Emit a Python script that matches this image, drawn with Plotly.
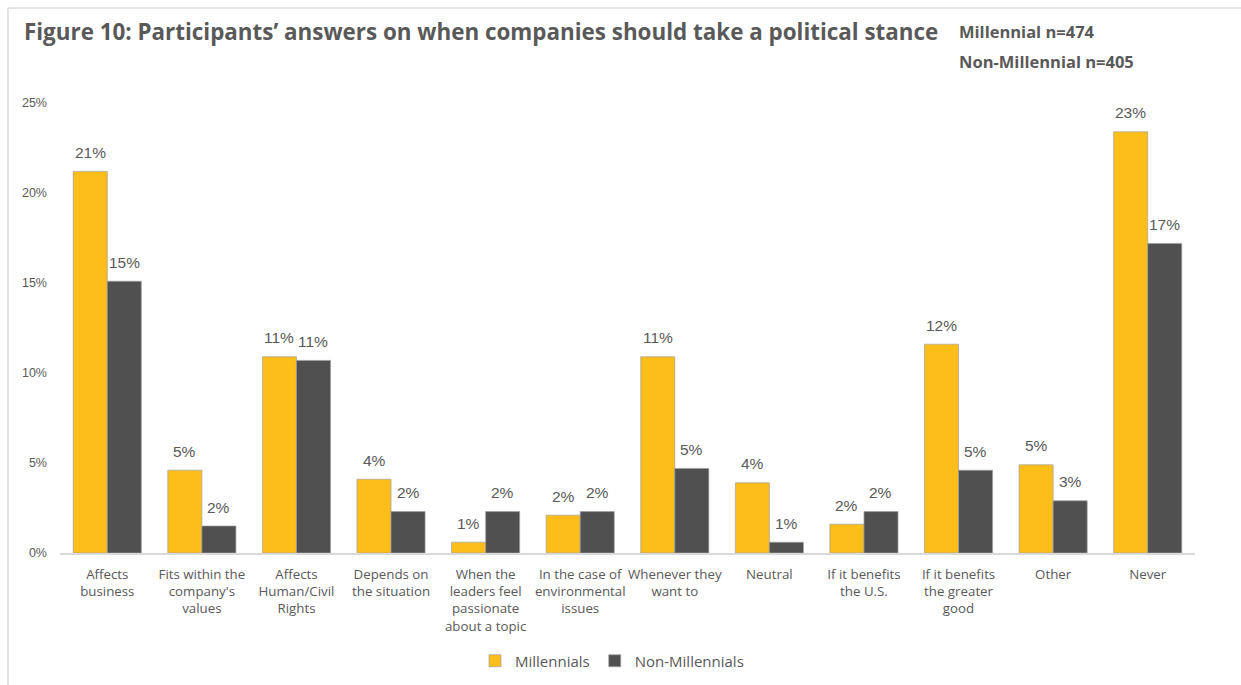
import plotly.graph_objects as go

categories = [
    "Affects<br>business",
    "Fits within the<br>company's<br>values",
    "Affects<br>Human/Civil<br>Rights",
    "Depends on<br>the situation",
    "When the<br>leaders feel<br>passionate<br>about a topic",
    "In the case of<br>environmental<br>issues",
    "Whenever they<br>want to",
    "Neutral",
    "If it benefits<br>the U.S.",
    "If it benefits<br>the greater<br>good",
    "Other",
    "Never",
]
millennials = [21.2, 4.6, 10.9, 4.1, 0.6, 2.1, 10.9, 3.9, 1.6, 11.6, 4.9, 23.4]
non_millennials = [15.1, 1.5, 10.7, 2.3, 2.3, 2.3, 4.7, 0.6, 2.3, 4.6, 2.9, 17.2]
y_ticks = [0, 5, 10, 15, 20, 25]

GREY = "#595959"
W, H = 1241, 685
ML, MR, MT, MB = 60, 46, 103, 132
PW = W - ML - MR
PH = H - MT - MB
BARGAP = 0.28
HALF = (1 - BARGAP) / 4  # center offset of each bar inside a group

def px2x(px):
    return (px - ML) / PW

def px2y(py):
    return (H - MB - py) / PH

fig = go.Figure()
fig.add_trace(go.Bar(
    name="Millennials", x=categories, y=millennials,
    marker=dict(color="#FDBE19", line=dict(color="rgba(160,160,160,0.7)", width=1)),
))
fig.add_trace(go.Bar(
    name="Non-Millennials", x=categories, y=non_millennials,
    marker=dict(color="#505050", line=dict(color="rgba(160,160,160,0.7)", width=1)),
))

label_font = dict(family="Liberation Sans, Arial", size=15.5, color=GREY)
annotations = []
for i, (m, n) in enumerate(zip(millennials, non_millennials)):
    annotations.append(dict(x=i - HALF, y=m, xref="x", yref="y", text=f"{m:.0f}%",
                            showarrow=False, yanchor="middle", yshift=19, font=label_font))
    annotations.append(dict(x=i + HALF, y=n, xref="x", yref="y", text=f"{n:.0f}%",
                            showarrow=False, yanchor="middle", yshift=19, font=label_font))

annotations += [
    dict(text="<b>Figure 10: Participants’ answers on when companies should take a political stance</b>",
         xref="paper", yref="paper", x=px2x(22), y=px2y(31), xanchor="left", yanchor="middle",
         showarrow=False, font=dict(family="Open Sans", size=22.4, color=GREY)),
    dict(text="<b>Millennial n=474</b>",
         xref="paper", yref="paper", x=px2x(957), y=px2y(31), xanchor="left", yanchor="middle",
         showarrow=False, font=dict(family="Open Sans", size=16.5, color=GREY)),
    dict(text="<b>Non-Millennial n=405</b>",
         xref="paper", yref="paper", x=px2x(957), y=px2y(62), xanchor="left", yanchor="middle",
         showarrow=False, font=dict(family="Open Sans", size=16.5, color=GREY)),
]

fig.update_layout(
    width=W, height=H,
    margin=dict(l=ML, r=MR, t=MT, b=MB, autoexpand=False),
    paper_bgcolor="white", plot_bgcolor="white",
    barmode="group", bargap=BARGAP, bargroupgap=0,
    showlegend=True,
    legend=dict(orientation="h", x=px2x(612), xanchor="center", y=px2y(661), yanchor="middle",
                font=dict(family="Open Sans", size=15, color=GREY),
                itemwidth=30, traceorder="normal"),
    xaxis=dict(showline=True, linecolor="#d9d9d9", linewidth=1.5, ticks="",
               tickfont=dict(family="Open Sans", size=13.3, color=GREY), automargin=False,
               showgrid=False, tickangle=0, ticklabelstandoff=8),
    yaxis=dict(range=[0, 25], tickvals=y_ticks, ticktext=[f"{v}%" for v in y_ticks],
               showgrid=False, zeroline=False, showline=False, automargin=False,
               tickfont=dict(family="Liberation Sans, Arial", size=12.5, color=GREY),
               ticklabelstandoff=12),
    annotations=annotations,
    shapes=[
        dict(type="line", xref="paper", yref="paper", x0=px2x(8), x1=px2x(1241), y0=px2y(8), y1=px2y(8),
             line=dict(color="#e3e3e3", width=2)),
        dict(type="line", xref="paper", yref="paper", x0=px2x(8), x1=px2x(8), y0=px2y(8), y1=px2y(685),
             line=dict(color="#e3e3e3", width=2)),
    ],
)

fig.write_html("out.html")
